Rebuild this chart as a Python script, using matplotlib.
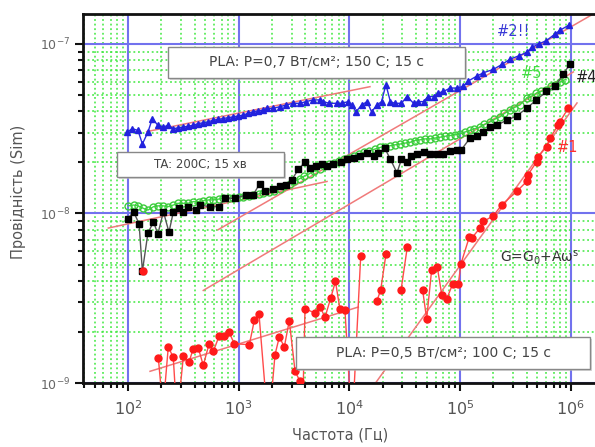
import numpy as np
import matplotlib
matplotlib.use("Agg")
import matplotlib.pyplot as plt
from matplotlib.patches import Rectangle
from matplotlib.ticker import LogLocator, NullFormatter

nan = np.nan

# ---- data (log10 of frequency [Hz] and log10 of conductance [Sim]) ----
lgf_blue = [1.99, 2.04, 2.09, 2.13, 2.18, 2.22, 2.27, 2.32, 2.36, 2.41,
            2.45, 2.50, 2.54, 2.59, 2.63, 2.68, 2.72, 2.77, 2.81, 2.86,
            2.90, 2.95, 2.99, 3.04, 3.08, 3.13, 3.17, 3.22, 3.26, 3.31,
            3.37, 3.43, 3.49, 3.55, 3.61, 3.67, 3.73, 3.76, 3.82, 3.89,
            3.93, 3.99, 4.02, 4.06, 4.11, 4.16, 4.20, 4.25, 4.29, 4.33,
            4.37, 4.41, 4.47, 4.52, 4.58, 4.62, 4.67, 4.71, 4.76, 4.80,
            4.85, 4.91, 4.97, 5.03, 5.07, 5.15, 5.21, 5.30, 5.38, 5.45,
            5.53, 5.60, 5.65, 5.71, 5.78, 5.86, 5.90, 5.98]
lgG_blue = [-7.52, -7.50, -7.51, -7.59, -7.52, -7.44, -7.48, -7.49, -7.48, -7.50,
            -7.495, -7.49, -7.485, -7.48, -7.47, -7.465, -7.46, -7.45, -7.445, -7.44,
            -7.435, -7.43, -7.425, -7.42, -7.41, -7.40, -7.395, -7.39, -7.38, -7.38,
            -7.37, -7.36, -7.35, -7.35, -7.34, -7.33, -7.33, -7.34, -7.35, -7.35,
            -7.35, -7.34, -7.36, -7.40, -7.36, -7.34, -7.40, -7.36, -7.34, -7.24,
            -7.34, -7.35, -7.35, -7.31, -7.35, -7.34, -7.34, -7.31, -7.31, -7.29,
            -7.28, -7.26, -7.26, -7.25, -7.22, -7.19, -7.17, -7.15, -7.12, -7.09,
            -7.07, -7.05, -7.02, -7.00, -6.98, -6.94, -6.92, -6.89]

lgf_green = [2.00, 2.05, 2.09, 2.14, 2.18, 2.23, 2.27, 2.32, 2.36, 2.41,
             2.45, 2.50, 2.54, 2.59, 2.64, 2.68, 2.73, 2.77, 2.82, 2.86,
             2.91, 2.95, 3.00, 3.04, 3.09, 3.13, 3.18, 3.22, 3.27, 3.32,
             3.37, 3.41, 3.46, 3.50, 3.55, 3.59, 3.64, 3.68, 3.73, 3.77,
             3.82, 3.86, 3.91, 3.95, 4.00, 4.04, 4.09, 4.13, 4.18, 4.23,
             4.28, 4.32, 4.37, 4.41, 4.46, 4.50, 4.55, 4.59, 4.64, 4.68,
             4.73, 4.77, 4.82, 4.86, 4.91, 4.95, 5.00, 5.04, 5.09, 5.13,
             5.18, 5.22, 5.27, 5.31, 5.36, 5.40, 5.45, 5.49, 5.54, 5.60,
             5.64, 5.69, 5.73, 5.78, 5.82, 5.86, 5.90, 5.95]
lgG_green = [-7.955, -7.95, -7.955, -7.97, -7.98, -7.96, -7.955, -7.955, -7.96, -7.95,
             -7.94, -7.94, -7.94, -7.93, -7.93, -7.925, -7.92, -7.92, -7.915, -7.91,
             -7.91, -7.91, -7.905, -7.90, -7.895, -7.89, -7.885, -7.88, -7.875, -7.865,
             -7.855, -7.84, -7.825, -7.81, -7.795, -7.78, -7.765, -7.75, -7.735, -7.72,
             -7.71, -7.70, -7.69, -7.68, -7.67, -7.66, -7.65, -7.64, -7.63, -7.62,
             -7.61, -7.605, -7.60, -7.595, -7.59, -7.585, -7.58, -7.57, -7.565, -7.56,
             -7.56, -7.555, -7.55, -7.545, -7.54, -7.535, -7.53, -7.52, -7.51, -7.50,
             -7.49, -7.475, -7.46, -7.445, -7.43, -7.41, -7.39, -7.375, -7.36, -7.32,
             -7.31, -7.29, -7.28, -7.27, -7.25, -7.24, -7.225, -7.21]

lgf_black = [2.00, 2.05, 2.10, 2.13, 2.18, 2.23, 2.27, 2.32, 2.37, 2.41,
             2.46, 2.50, 2.54, 2.61, 2.65, 2.74, 2.82, 2.88, 2.97, 3.07,
             3.13, 3.19, 3.24, 3.31, 3.37, 3.43, 3.48, 3.54, 3.60, 3.64,
             3.70, 3.75, 3.80, 3.85, 3.92, 3.98, 4.04, 4.10, 4.16, 4.22,
             4.26, 4.32, 4.37, 4.43, 4.47, 4.52, 4.56, 4.61, 4.67, 4.73,
             4.79, 4.85, 4.91, 4.97, 5.01, 5.09, 5.15, 5.21, 5.27, 5.33,
             5.42, 5.51, 5.60, 5.69, 5.78, 5.86, 5.93, 5.99]
lgG_black = [-8.03, -7.99, -8.06, -8.34, -8.115, -8.05, -8.12, -7.99, -8.11, -7.99,
             -7.97, -7.99, -7.96, -7.98, -7.95, -7.96, -7.96, -7.91, -7.91, -7.89,
             -7.89, -7.825, -7.87, -7.855, -7.84, -7.83, -7.80, -7.74, -7.695, -7.73,
             -7.72, -7.71, -7.72, -7.71, -7.695, -7.68, -7.67, -7.66, -7.645, -7.66,
             -7.645, -7.615, -7.68, -7.76, -7.68, -7.695, -7.66, -7.65, -7.64, -7.65,
             -7.65, -7.65, -7.63, -7.625, -7.625, -7.555, -7.545, -7.52, -7.49, -7.48,
             -7.45, -7.425, -7.38, -7.33, -7.28, -7.25, -7.18, -7.12]

lgf_red = [2.133, nan, 2.274, 2.316, 2.364, 2.409, 2.443, 2.500, 2.551, 2.590,
           2.635, 2.680, 2.732, 2.771, 2.822, 2.867, 2.912, 2.960, 3.096, 3.141,
           3.183, 3.269, 3.328, 3.367, 3.412, 3.457, 3.509, 3.554, 3.576, 3.599,
           3.689, 3.734, 3.780, 3.831, 3.874, 3.915, 3.960, 4.024, 4.102, nan,
           4.247, 4.283, 4.331, nan, 4.466, 4.523, nan, 4.662, 4.698, 4.743,
           4.794, 4.834, 4.879, 4.933, 4.984, 5.008, 5.083, 5.105, 5.180, 5.210,
           5.300, 5.376, 5.511, 5.602, 5.613, 5.692, 5.706, 5.782, 5.812, 5.887,
           5.902, 5.977]
lgG_red = [-8.338, nan, -8.852, -9.157, -8.787, -8.849, -9.216, -8.843, -8.876, -8.797,
           -8.793, -8.896, -8.770, -8.813, -8.725, -8.721, -8.699, -8.768, -8.774, -8.631,
           -8.591, -9.275, -8.833, -8.728, -8.787, -8.632, -8.931, -8.990, -9.216, -8.562,
           -8.587, -8.550, -8.612, -8.499, -8.401, -8.565, -8.572, -9.275, -8.253, nan,
           -8.519, -8.450, -8.237, nan, -8.454, -8.198, nan, -8.454, -8.622, -8.332,
           -8.316, -8.479, -8.504, -8.416, -8.416, -8.296, -8.139, -8.145, -8.086, -8.047,
           -8.014, -7.949, -7.870, -7.811, -7.772, -7.694, -7.664, -7.605, -7.556, -7.477,
           -7.458, -7.379]

# power-law fit lines G = G0 + A*w^s (end points, log10)
fit_lgf = [[2.169, 4.186], [2.813, 6.219], [1.822, 3.798],
           [2.680, 6.023], [2.199, 4.080], [4.213, 6.056]]
fit_lgG = [[-7.517, -7.252], [-8.096, -6.817], [-8.086, -7.811],
           [-8.454, -7.165], [-8.931, -8.552], [-9.021, -7.348]]

series_labels = ["#2!!", "#5", "#4", "#1"]
box_texts = ["PLA: P=0,7 Вт/см²; 150 С; 15 с",
             "TA: 200С; 15 хв",
             "PLA: P=0,5 Вт/см²; 100 С; 15 с"]
formula = r"G=G$_\mathregular{0}$+Aω$^\mathregular{s}$"
xlabel = "Частота (Гц)"
ylabel = "Провідність (Sim)"

# ---- figure ----
W, H = 595, 447
fig = plt.figure(figsize=(W / 100, H / 100), dpi=100)
ax = fig.add_axes([83 / W, 1 - 383 / H, 1 - 83 / W, (383 - 14) / H])

def p(a):
    return 10 ** np.asarray(a, dtype=float)

ax.set_xscale("log")
ax.set_yscale("log")
ax.set_xlim(10 ** 1.5935, 10 ** 6.2186)
ax.set_ylim(1e-9, 10 ** -6.8232)

# grid
ax.xaxis.set_major_locator(LogLocator(base=10, numticks=20))
ax.xaxis.set_minor_locator(LogLocator(base=10, subs=np.arange(2, 10), numticks=20))
ax.yaxis.set_major_locator(LogLocator(base=10, numticks=20))
ax.yaxis.set_minor_locator(LogLocator(base=10, subs=np.arange(2, 10), numticks=20))
ax.xaxis.set_minor_formatter(NullFormatter())
ax.yaxis.set_minor_formatter(NullFormatter())
ax.grid(which="minor", color="#3ee83e", linestyle=(0, (1.2, 1.8)), linewidth=1.1, zorder=0)
ax.grid(which="major", color="#7272ee", linestyle="-", linewidth=1.5, zorder=0)
ax.set_axisbelow(True)

# fit lines
for fx, fy in zip(fit_lgf, fit_lgG):
    ax.plot(p(fx), p(fy), color="#f07a7a", lw=1.1, zorder=2)

# series
ax.plot(p(lgf_blue), p(lgG_blue), color="#2a2ae0", lw=1.0, marker="^", ms=5,
        mfc="#2222dd", mec="#2222dd", zorder=3)
ax.plot(p(lgf_green), p(lgG_green), color="#40d840", lw=1.0, marker="o", ms=5,
        mfc="none", mec="#3ccc3c", mew=1.0, zorder=3)
ax.plot(p(lgf_black), p(lgG_black), color="#555555", lw=1.0, marker="s", ms=4,
        mfc="black", mec="black", zorder=4)
ax.plot(p(lgf_red), p(lgG_red), color="#ff4a4a", lw=1.0, marker="o", ms=5,
        mfc="#ff1a1a", mec="#ff1a1a", zorder=4)

# spines and ticks
for s in ["left", "bottom", "top"]:
    ax.spines[s].set_linewidth(2)
    ax.spines[s].set_color("#111111")
ax.spines["right"].set_visible(False)
ax.tick_params(which="both", direction="out", color="#111111", width=1.5)
ax.tick_params(which="major", length=6)
ax.tick_params(which="minor", length=3.5)
ax.tick_params(axis="x", which="major", labelsize=11.5, labelcolor="#555555", pad=6)
ax.tick_params(axis="y", which="major", labelsize=9, labelcolor="#666666", pad=3)
ax.tick_params(top=False, right=False, which="both")

fig.text(18 / W, 1 - 192 / H, ylabel, rotation=90, ha="center", va="center",
         fontsize=10.5, color="#555555")
fig.text(340 / W, 1 - 435 / H, xlabel, ha="center", va="center",
         fontsize=10.5, color="#555555")

# boxes
def box(x0, x1, y0, y1, text, size):
    sh = Rectangle((x0 / W + 2 / W, 1 - y1 / H - 2 / H), (x1 - x0) / W, (y1 - y0) / H,
                   transform=fig.transFigure, facecolor="#bbbbbb", edgecolor="none",
                   alpha=0.6, zorder=9)
    r = Rectangle((x0 / W, 1 - y1 / H), (x1 - x0) / W, (y1 - y0) / H,
                  transform=fig.transFigure, facecolor="white", edgecolor="#888888",
                  lw=1.0, zorder=10)
    fig.add_artist(sh)
    fig.add_artist(r)
    fig.text((x0 + x1) / 2 / W, 1 - (y0 + y1) / 2 / H, text, ha="center", va="center",
             fontsize=size, color="#444444", zorder=11)

box(168, 465, 47, 78, box_texts[0], 10)
box(117, 284, 152, 177, box_texts[1], 8.5)
box(296, 590, 337, 369, box_texts[2], 10)

# series labels
fig.text(497 / W, 1 - 32 / H, series_labels[0], color="#3a3ad6", fontsize=10.5,
         ha="left", va="center", zorder=12)
fig.text(521 / W, 1 - 74 / H, series_labels[1], color="#44dd44", fontsize=10.5,
         ha="left", va="center", zorder=12)
fig.text(576 / W, 1 - 78 / H, series_labels[2], color="#222222", fontsize=10.5,
         ha="left", va="center", zorder=12)
fig.text(557 / W, 1 - 148 / H, series_labels[3], color="#ff3030", fontsize=10.5,
         ha="left", va="center", zorder=12)
fig.text(500 / W, 1 - 258 / H, formula, color="#333333", fontsize=10,
         ha="left", va="center", zorder=12)

fig.savefig("out.png", dpi=100)
